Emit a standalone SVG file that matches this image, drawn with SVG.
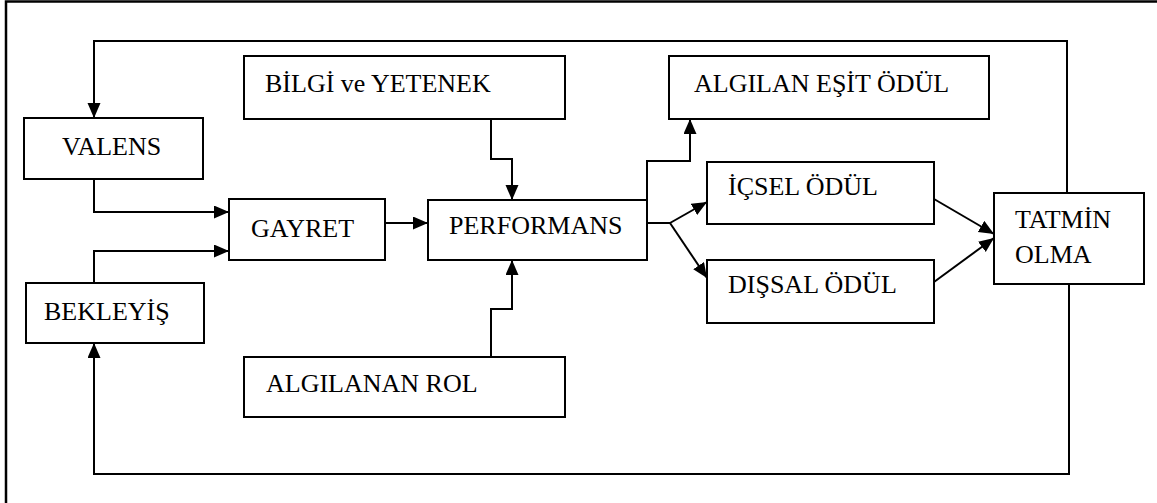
<svg xmlns="http://www.w3.org/2000/svg" width="1157" height="503" viewBox="0 0 1157 503">
<style>
.box{fill:#fff;stroke:#000;stroke-width:2}
text{font-family:'Liberation Serif','DejaVu Serif',serif;font-size:26px;fill:#000}
.c{fill:none;stroke:#000;stroke-width:2}
.a{marker-end:url(#ah)}
</style>
<defs>
<marker id="ah" markerUnits="userSpaceOnUse" markerWidth="16" markerHeight="14" refX="15" refY="6.5" orient="auto">
<path d="M0,0 L15,6.5 L0,13 z" fill="#000"/>
</marker>
</defs>
<rect width="1157" height="503" fill="#fff"/>
<path d="M6,510 V1.5 H1160" fill="none" stroke="#000" stroke-width="2.5"/>
<g id="connectors">
<path class="c a" d="M1067,193 V41 H94 V118"/>
<path class="c a" d="M1069,284 V474 H94 V343"/>
<path class="c a" d="M94,179 V212 H229"/>
<path class="c a" d="M94,283 V251 H229"/>
<path class="c a" d="M385,223 H428"/>
<path class="c a" d="M491,119 V159 H512 V200"/>
<path class="c a" d="M491,357 V309 H512 V260"/>
<path class="c a" d="M647,200 V161 H690 V119"/>
<path class="c" d="M647,223 H670"/>
<path class="c a" d="M670,223 L707,202"/>
<path class="c a" d="M670,223 L707,278"/>
<path class="c a" d="M934,199 L994,234"/>
<path class="c a" d="M934,282 L994,238"/>
</g>
<g id="valens"><rect class="box" x="24" y="118" width="179" height="61"/><text font-family="Liberation Serif" x="62" y="155">VALENS</text></g>
<g id="bekleyis"><rect class="box" x="26" y="283" width="178" height="60"/><text font-family="Liberation Serif" x="44" y="320">BEKLEYİŞ</text></g>
<g id="gayret"><rect class="box" x="229" y="199" width="156" height="61"/><text font-family="Liberation Serif" x="251" y="237">GAYRET</text></g>
<g id="bilgi"><rect class="box" x="244" y="56" width="321" height="63"/><text font-family="Liberation Serif" x="265" y="92">BİLGİ ve YETENEK</text></g>
<g id="rol"><rect class="box" x="244" y="357" width="321" height="60"/><text font-family="Liberation Serif" x="266" y="392">ALGILANAN ROL</text></g>
<g id="performans"><rect class="box" x="428" y="200" width="219" height="60"/><text font-family="Liberation Serif" x="449" y="234">PERFORMANS</text></g>
<g id="esit"><rect class="box" x="669" y="56" width="320" height="63"/><text font-family="Liberation Serif" x="694" y="92">ALGILAN EŞİT ÖDÜL</text></g>
<g id="icsel"><rect class="box" x="707" y="162" width="227" height="62"/><text font-family="Liberation Serif" x="728" y="195">İÇSEL ÖDÜL</text></g>
<g id="dissal"><rect class="box" x="707" y="260" width="227" height="63"/><text font-family="Liberation Serif" x="728" y="293">DIŞSAL ÖDÜL</text></g>
<g id="tatmin"><rect class="box" x="994" y="193" width="150" height="91"/><text font-family="Liberation Serif" x="1015" y="228">TATMİN</text><text font-family="Liberation Serif" x="1015" y="263">OLMA</text></g>
</svg>
